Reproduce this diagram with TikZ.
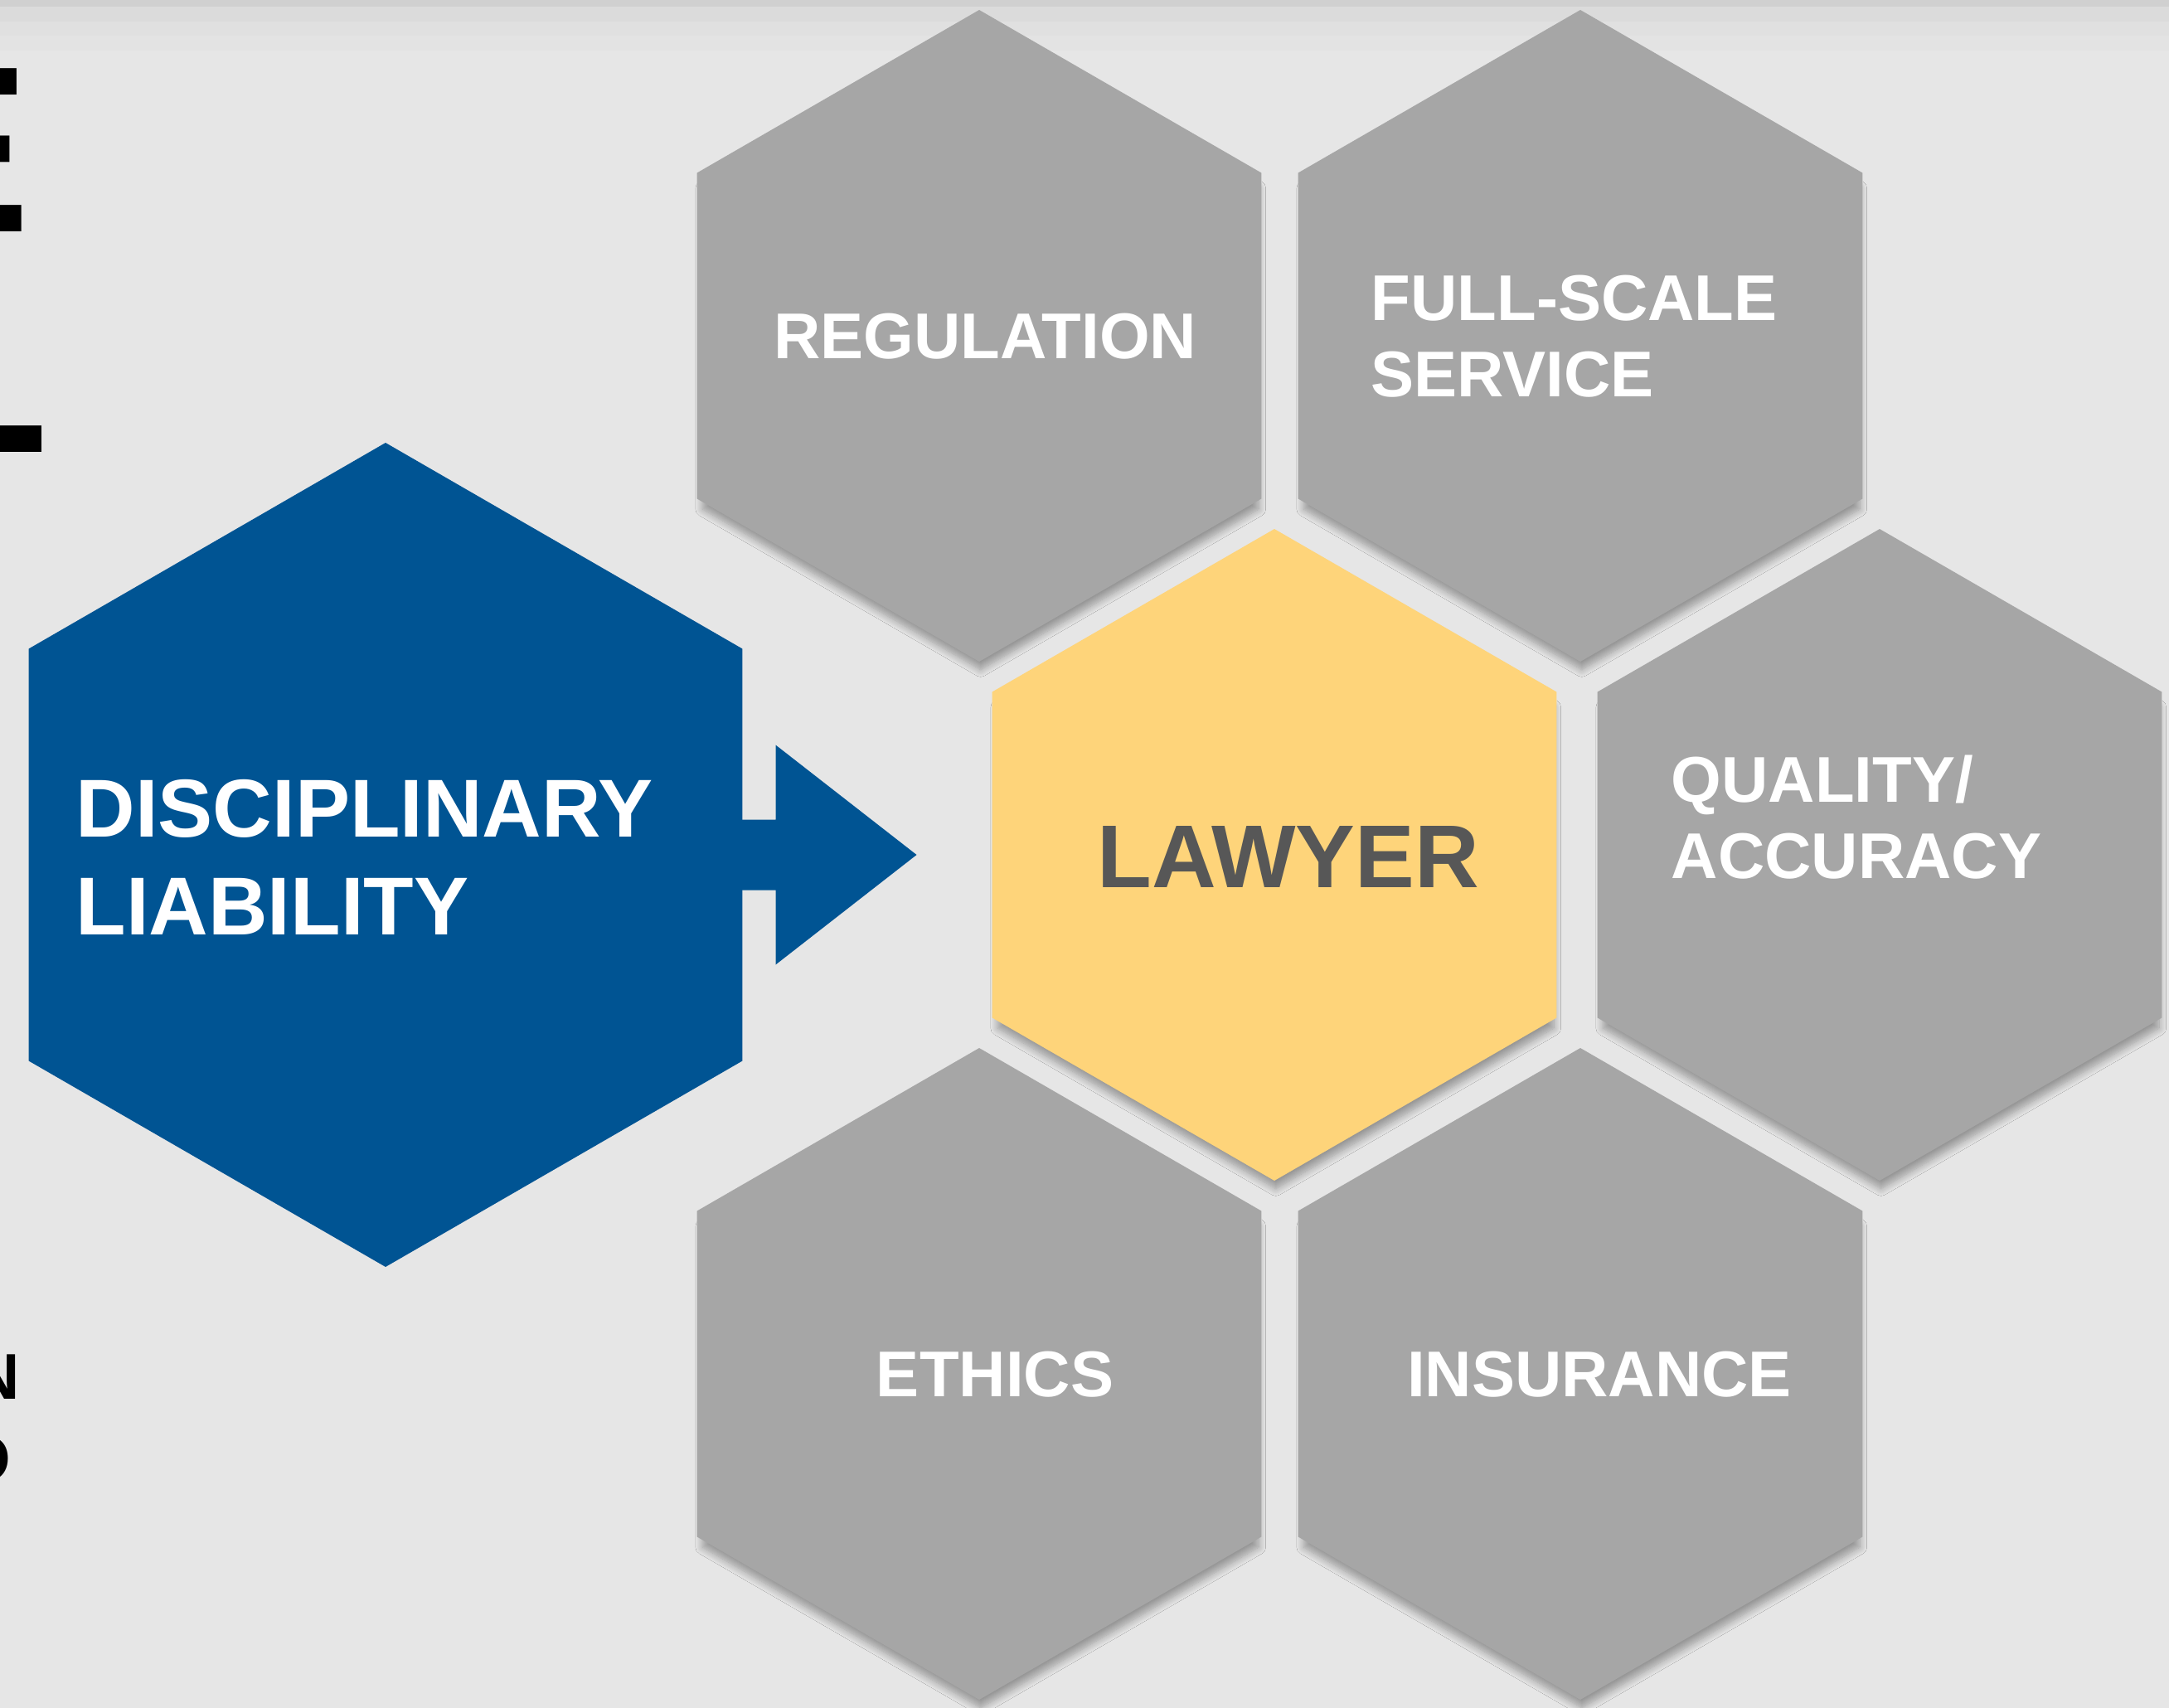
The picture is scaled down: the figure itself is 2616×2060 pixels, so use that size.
\documentclass[tikz,border=0pt]{standalone}
\usepackage{fontspec}
\setmainfont{Liberation Sans}
\usetikzlibrary{shapes.geometric}
\usetikzlibrary{shadows.blur}

\definecolor{backgray}{HTML}{E6E6E6}
\definecolor{bandA}{HTML}{D0D0D0}
\definecolor{bandB}{HTML}{DBDBDB}
\definecolor{bandC}{HTML}{E0E0E0}
\definecolor{bandD}{HTML}{E3E3E3}
\definecolor{hexgray}{HTML}{A6A6A6}
\definecolor{lawyellow}{HTML}{FED47A}
\definecolor{dlblue}{HTML}{005493}
\definecolor{lawtext}{HTML}{575757}

\begin{document}
\begin{tikzpicture}[x=0.1mm,y=-0.1mm]
	\tikzstyle{hexagon}=[regular polygon,regular polygon sides=6,shape border rotate=30,inner sep=0pt,outer sep=0pt]
	\tikzstyle{topic}=[hexagon,fill=hexgray,minimum size=78.6mm,blur shadow={shadow xshift=0.5pt,shadow yshift=-4.5pt,shadow scale=0.985,shadow blur radius=2.5pt,shadow blur steps=10,shadow opacity=35}]
	\tikzstyle{centre}=[topic,fill=lawyellow]
	\tikzstyle{source}=[hexagon,fill=dlblue,minimum size=99.4mm]
	\tikzstyle{topic label}=[font=\bfseries\fontsize{22.2}{26.2}\selectfont,text=white,inner sep=0pt,align=left]
	\tikzstyle{edge text}=[font=\bfseries\fontsize{81.4}{82}\selectfont,text=black,inner sep=0pt,anchor=base west]

	\useasboundingbox (0,0) rectangle (2616,2060);
	\fill[backgray] (0,0) rectangle (2616,2060);
	\fill[bandD] (0,0) rectangle (2616,61);
	\fill[bandC] (0,0) rectangle (2616,43);
	\fill[bandB] (0,0) rectangle (2616,26);
	\fill[bandA] (0,0) rectangle (2616,8);

	\node[edge text] (frag1) at (-154,280) {E};
	\node[edge text] (frag2) at (-116,546) {L};
	\node[edge text,font=\bfseries\fontsize{22.2}{26}\selectfont] (frag3) at (-33,1687) {N};
	\node[edge text,font=\bfseries\fontsize{22.2}{26}\selectfont] (frag4) at (-48,1786) {O};

	\node[topic] (reg) at (1181,405) {};
	\node[topic] (fss) at (1906,405) {};
	\node[centre] (law) at (1537,1031) {};
	\node[topic] (qa) at (2267,1031) {};
	\node[topic] (eth) at (1181,1657) {};
	\node[topic] (ins) at (1906,1657) {};
	\node[source] (dl) at (465,1031) {};

	\fill[dlblue] ([xshift=-1mm,yshift=4.25mm]dl.east) -- ++(50,0) -- ++(0,-90) -- ++(170,132.5) -- ++(-170,132.5) -- ++(0,-90) -- ++(-50,0) -- cycle;

	\node[topic label] (reglbl) at (1188,406) {REGULATION};
	\node[topic label,anchor=west] (fsslbl) at (1653,406) {FULL-SCALE\\SERVICE};
	\node[topic label,anchor=west] (qalbl) at (2015,986) {QUALITY/\\ACCURACY};
	\node[topic label] (ethlbl) at (1200,1658) {ETHICS};
	\node[topic label] (inslbl) at (1929,1658) {INSURANCE};
	\node[topic label,text=lawtext,font=\bfseries\fontsize{30.6}{36}\selectfont] (lawlbl) at (1554,1033) {LAWYER};
	\node[topic label,anchor=west,font=\bfseries\fontsize{28.2}{33.6}\selectfont] (dllbl) at (91,1034) {DISCIPLINARY\\LIABILITY};
\end{tikzpicture}
\end{document}
